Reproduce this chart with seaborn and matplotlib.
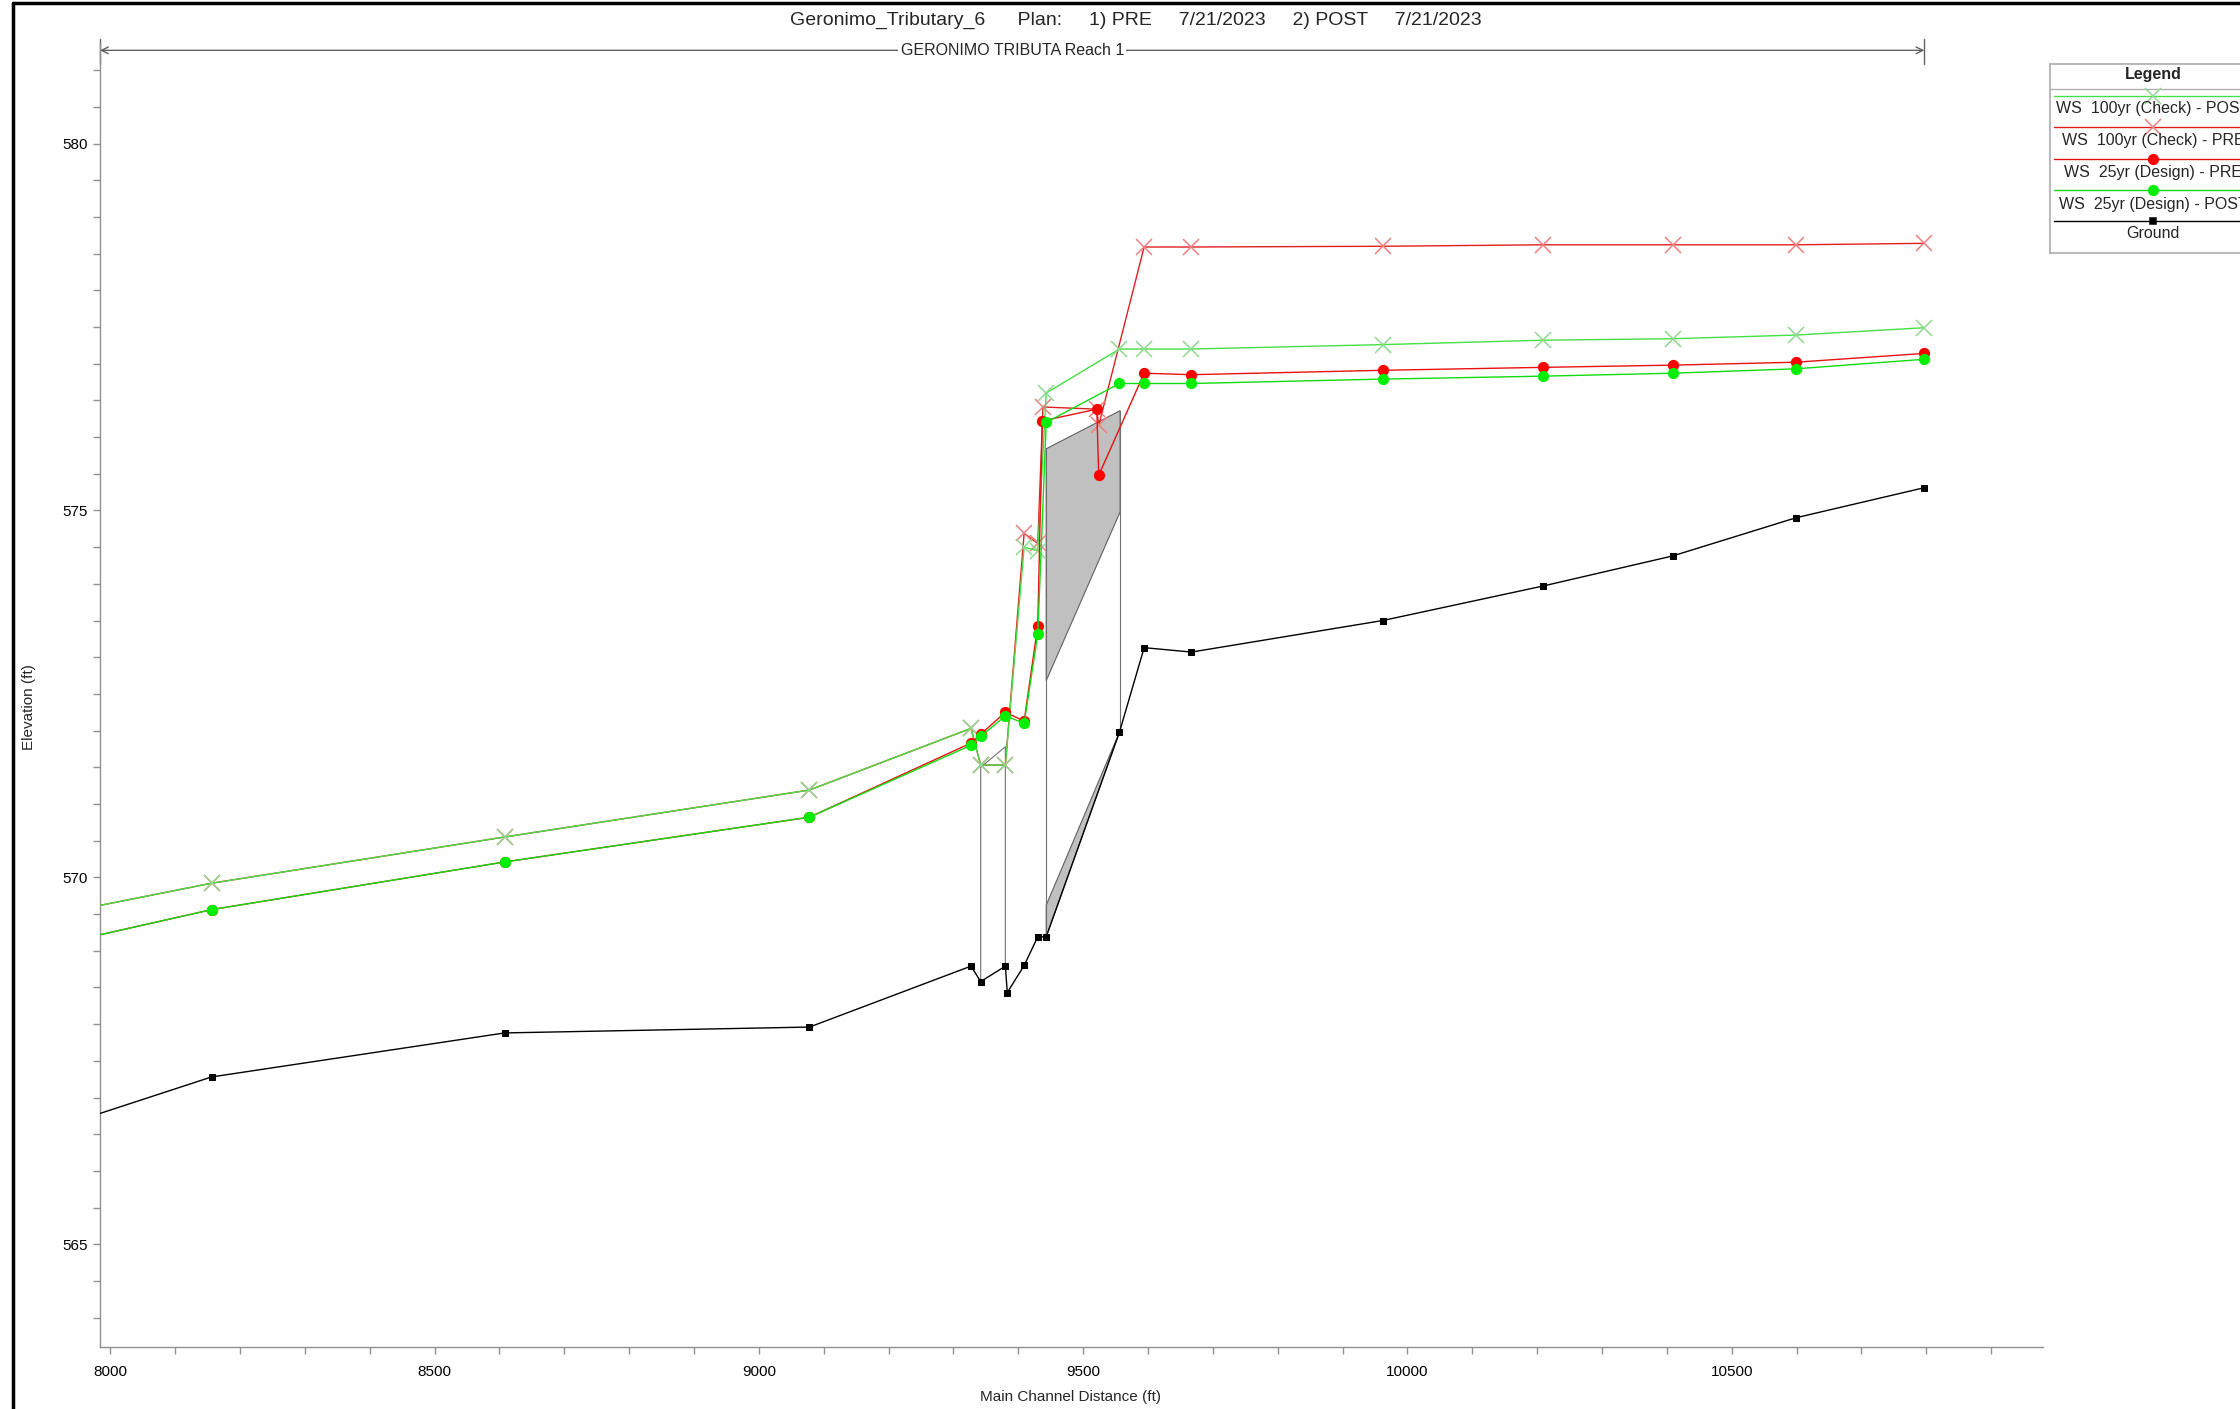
import seaborn as sns
import matplotlib.pyplot as plt
from matplotlib.ticker import MultipleLocator
from matplotlib.lines import Line2D

# profile data (main channel distance in ft, elevation in ft)
ground_x = [7900, 8156, 8608, 9078, 9327, 9342, 9380, 9383, 9409, 9430, 9443, 9556, 9594, 9667, 9962, 10209, 10409, 10599, 10797]
ground_z = [566.54, 567.28, 567.88, 567.96, 568.79, 568.58, 568.79, 568.43, 568.80, 569.19, 569.19, 571.98, 573.13, 573.07, 573.50, 573.97, 574.38, 574.90, 575.31]

post_100_x = [7900, 8156, 8608, 9078, 9327, 9342, 9380, 9409, 9430, 9443, 9556, 9594, 9667, 9962, 10209, 10409, 10599, 10797]
post_100_ws = [569.47, 569.92, 570.55, 571.19, 572.03, 571.53, 571.53, 574.50, 574.45, 576.60, 577.20, 577.20, 577.20, 577.26, 577.32, 577.34, 577.39, 577.49]

pre_100_x = [7900, 8156, 8608, 9078, 9327, 9342, 9380, 9409, 9430, 9438, 9521, 9524, 9594, 9667, 9962, 10209, 10409, 10599, 10797]
pre_100_ws = [569.47, 569.92, 570.55, 571.19, 572.03, 571.53, 571.53, 574.69, 574.55, 576.41, 576.38, 576.16, 578.59, 578.59, 578.60, 578.62, 578.62, 578.62, 578.64]

pre_25_x = [7900, 8156, 8608, 9078, 9327, 9342, 9380, 9409, 9430, 9437, 9521, 9524, 9594, 9667, 9962, 10209, 10409, 10599, 10797]
pre_25_ws = [569.05, 569.56, 570.21, 570.82, 571.83, 571.95, 572.25, 572.13, 573.43, 576.22, 576.38, 575.48, 576.87, 576.85, 576.91, 576.95, 576.98, 577.02, 577.14]

post_25_x = [7900, 8156, 8608, 9078, 9327, 9342, 9380, 9409, 9430, 9443, 9556, 9594, 9667, 9962, 10209, 10409, 10599, 10797]
post_25_ws = [569.05, 569.56, 570.21, 570.82, 571.80, 571.92, 572.20, 572.10, 573.31, 576.20, 576.73, 576.73, 576.73, 576.79, 576.83, 576.87, 576.93, 577.06]

# bridge / culvert geometry
deck_x = [9443, 9557, 9557, 9443]
deck_z = [575.84, 576.36, 574.98, 572.68]
low_x = [9443, 9556, 9443]
low_z = [569.62, 571.98, 569.19]
culvert_x = [9342, 9342, 9380, 9380]
culvert_z = [568.58, 571.50, 571.78, 568.79]
abut_x = [9443, 9557]
abut_bot = [569.19, 571.98]
abut_top = [575.84, 576.36]

reach_start, reach_end = 7984, 10797

sns.set_theme(style='ticks')
plt.rcParams['font.family'] = ['Liberation Sans', 'DejaVu Sans']

W, H = 2240, 1409
fig = plt.figure(figsize=(W / 100, H / 100), dpi=100)
ax = fig.add_axes([100 / W, 1 - 1347 / H, (2043 - 100) / W, (1347 - 43) / H])

# structures
ax.fill(deck_x, deck_z, color='#c0c0c0', ec='#606060', lw=0.8, zorder=1)
ax.fill(low_x, low_z, color='#c0c0c0', ec='#606060', lw=0.8, zorder=1)
ax.plot(culvert_x, culvert_z, color='#707070', lw=0.8, zorder=1)
for x, b, t in zip(abut_x, abut_bot, abut_top):
    ax.plot([x, x], [b, t], color='#707070', lw=0.8, zorder=1)

# legend order
series = [
    (post_100_x, post_100_ws, '#44e044', 'x', '#90d890', 12),
    (pre_100_x, pre_100_ws, '#e02020', 'x', '#f08080', 12),
    (pre_25_x, pre_25_ws, '#e81010', 'o', '#ff0000', 7),
    (post_25_x, post_25_ws, '#10dd10', 'o', '#00ee00', 7),
]
# drawing order: PRE 100yr under POST 100yr
for k, i in enumerate([1, 0, 2, 3]):
    xs, ys, lc, mk, mc, ms = series[i]
    sns.lineplot(x=xs, y=ys, sort=False, estimator=None, color=lc, lw=1.0,
                 marker=mk, ms=ms, mfc=mc, mec=mc, mew=1.1, ax=ax, zorder=3 + k * 0.1)

sns.lineplot(x=ground_x, y=ground_z, sort=False, estimator=None, color='black', lw=1.0,
             marker='s', ms=5, mfc='black', mec='black', ax=ax, zorder=4)

ax.set_xlim(7984, 10980)
ax.set_ylim(563.6, 581.37)
ax.xaxis.set_major_locator(MultipleLocator(500))
ax.xaxis.set_minor_locator(MultipleLocator(100))
ax.yaxis.set_major_locator(MultipleLocator(5))
ax.yaxis.set_minor_locator(MultipleLocator(0.5))
ax.tick_params(which='both', direction='out', length=5, width=1, color='#909090',
               labelsize=11, labelcolor='black')
ax.tick_params(axis='x', pad=8)
for s in ['top', 'right']:
    ax.spines[s].set_visible(False)
for s in ['left', 'bottom']:
    ax.spines[s].set_color('#909090')
    ax.spines[s].set_linewidth(1)
ax.set_xlabel('')
ax.set_ylabel('')

# reach arrow
ax.annotate('', xy=(reach_start, 581.27), xytext=(reach_end, 581.27),
            arrowprops=dict(arrowstyle='<->', color='#606060', lw=1, shrinkA=0, shrinkB=0,
                            mutation_scale=12), annotation_clip=False)
for x in [reach_start, reach_end]:
    ax.plot([x, x], [581.08, 581.42], color='#606060', lw=1, clip_on=False)
ax.text((reach_start + reach_end) / 2, 581.27, 'GERONIMO TRIBUTA Reach 1', ha='center', va='center',
        fontsize=11.5, bbox=dict(fc='white', ec='none', pad=2))

fig.text(1136 / W, 1 - 20 / H,
         'Geronimo_Tributary_6      Plan:     1) PRE     7/21/2023     2) POST     7/21/2023',
         ha='center', va='center', fontsize=14)
fig.text(29 / W, 1 - 707 / H, 'Elevation (ft)', rotation=90, ha='center', va='center', fontsize=11)
fig.text(1070 / W, 1 - 1397 / H, 'Main Channel Distance (ft)', ha='center', va='center', fontsize=11)

# legend panel (HEC-RAS style, cut by the right edge as in the source)
lx0, lx1, ly0, ly1 = 2050, 2256, 64, 253
lg = fig.add_axes([lx0 / W, 1 - ly1 / H, (lx1 - lx0) / W, (ly1 - ly0) / H])
lg.set_xlim(0, lx1 - lx0)
lg.set_ylim(ly1 - ly0, 0)
lg.set_xticks([])
lg.set_yticks([])
for s in lg.spines.values():
    s.set_color('#b0b0b0')
lg.text(103, 10, 'Legend', ha='center', va='center', fontsize=11.5, fontweight='bold')
lg.axhline(25, color='#b0b0b0', lw=1)
labels = ['WS  100yr (Check) - POST', 'WS  100yr (Check) - PRE', 'WS  25yr (Design) - PRE',
          'WS  25yr (Design) - POST', 'Ground']
styles = series + [(None, None, 'black', 's', 'black', 5)]
line_y = [32, 63, 95, 126, 157]
text_y = [45, 77, 109, 140, 170]
for lab, st, yl, yt in zip(labels, styles, line_y, text_y):
    _, _, lc, mk, mc, ms = st
    lg.plot([4, 202], [yl, yl], color=lc, lw=1.0)
    lg.plot([103], [yl], marker=mk, ms=ms, mfc=mc, mec=mc, mew=1.1, color=lc)
    lg.text(103, yt, lab, ha='center', va='center', fontsize=11.5)

# outer frame
fig.add_artist(Line2D([13 / W, 13 / W], [0, 1 - 3 / H], color='black', lw=2.5))
fig.add_artist(Line2D([13 / W, 1], [1 - 3 / H, 1 - 3 / H], color='black', lw=2.5))

fig.savefig('out.png', dpi=100)
